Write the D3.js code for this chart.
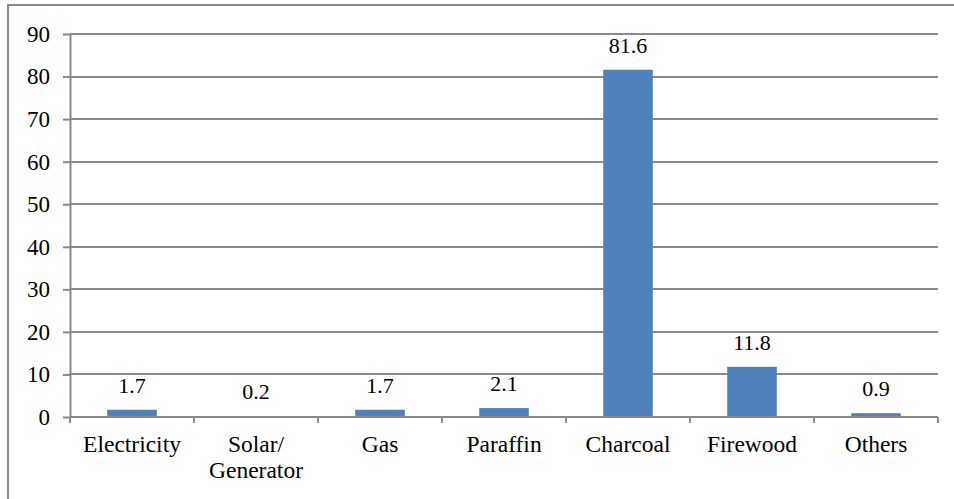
<!DOCTYPE html>
<html>
<head>
<meta charset="utf-8">
<script src="https://cdn.jsdelivr.net/npm/d3@7"></script>
<style>
  html, body { margin: 0; padding: 0; background: #fff; }
  svg text { font-family: "Liberation Serif", "Times New Roman", serif; fill: #000; }
</style>
</head>
<body>
<svg id="chart" width="954" height="499"></svg>
<script>
// Household cooking energy sources (%)
const categories = ["Electricity", "Solar/\nGenerator", "Gas", "Paraffin", "Charcoal", "Firewood", "Others"];
const values = [1.7, 0.2, 1.7, 2.1, 81.6, 11.8, 0.9];
const yTicks = [0, 10, 20, 30, 40, 50, 60, 70, 80, 90];

const svg = d3.select("#chart");
const plotLeft = 70, plotRight = 938, plotTop = 34, plotBottom = 417;
const gray = "#898989";

// outer frame
svg.append("rect")
  .attr("x", 8).attr("y", 5).attr("width", 960).attr("height", 520)
  .attr("fill", "none").attr("stroke", gray).attr("stroke-width", 2);

const x = d3.scaleBand().domain(categories).range([plotLeft, plotRight]).paddingInner(0.6).paddingOuter(0.3);
const xOuter = d3.scaleBand().domain(categories).range([plotLeft, plotRight]);
const y = d3.scaleLinear().domain([0, 90]).range([plotBottom, plotTop]);

// horizontal gridlines
svg.append("g").selectAll("line").data(yTicks.filter(d => d > 0)).join("line")
  .attr("x1", plotLeft).attr("x2", plotRight)
  .attr("y1", d => Math.round(y(d))).attr("y2", d => Math.round(y(d)))
  .attr("stroke", gray).attr("stroke-width", 2);

// y axis
const yAxis = d3.axisLeft(y).tickValues(yTicks).tickSize(7).tickPadding(13).tickSizeOuter(0);
const gy = svg.append("g").attr("transform", `translate(${plotLeft},0)`).call(yAxis);
gy.select(".domain").attr("stroke", gray).attr("stroke-width", 2);
gy.selectAll(".tick line").attr("stroke", gray).attr("stroke-width", 2);
gy.selectAll(".tick text").attr("font-size", 23).attr("font-family", "Liberation Serif").attr("fill", "#000");

// bars
svg.append("g").selectAll("rect").data(values).join("rect")
  .attr("x", (d, i) => x(categories[i]))
  .attr("width", x.bandwidth())
  .attr("y", d => y(d))
  .attr("height", d => y(0) - y(d))
  .attr("fill", "#4f81bd");

// value labels
svg.append("g").selectAll("text").data(values).join("text")
  .attr("x", (d, i) => x(categories[i]) + x.bandwidth() / 2)
  .attr("y", d => y(d) - 17)
  .attr("text-anchor", "middle")
  .attr("font-size", 22)
  .text(d => d.toFixed(1));

// x axis
svg.append("line")
  .attr("x1", plotLeft).attr("x2", plotRight).attr("y1", plotBottom).attr("y2", plotBottom)
  .attr("stroke", gray).attr("stroke-width", 2);
const tickXs = categories.map(c => xOuter(c)).concat([plotRight]);
svg.append("g").selectAll("line").data(tickXs).join("line")
  .attr("x1", d => d).attr("x2", d => d)
  .attr("y1", plotBottom).attr("y2", plotBottom + 6)
  .attr("stroke", gray).attr("stroke-width", 2);

// category labels
const labels = svg.append("g").selectAll("text").data(categories).join("text")
  .attr("text-anchor", "middle")
  .attr("font-size", 23.5)
  .attr("transform", c => `translate(${xOuter(c) + xOuter.bandwidth() / 2},${plotBottom + 35})`);
labels.selectAll("tspan").data(c => c.split("\n")).join("tspan")
  .attr("x", 0).attr("dy", (d, i) => i === 0 ? 0 : 26)
  .text(d => d);
</script>
</body>
</html>
